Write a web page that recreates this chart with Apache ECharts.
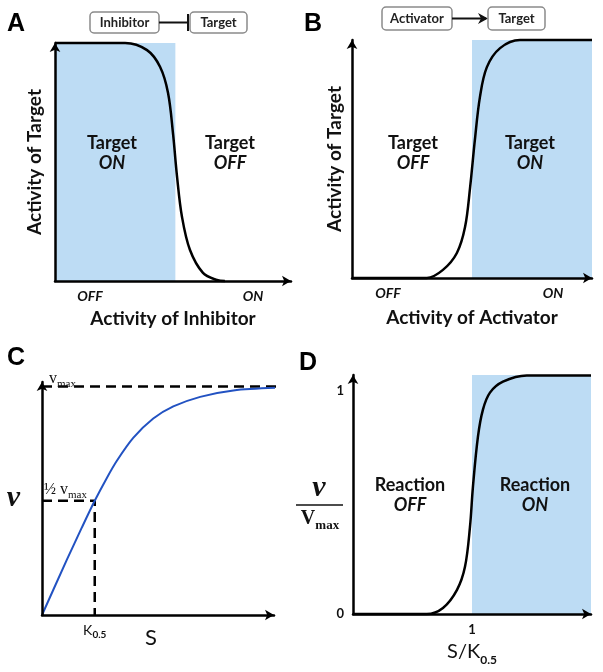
<!DOCTYPE html>
<html><head><meta charset="utf-8">
<script src="https://cdn.jsdelivr.net/npm/echarts@6/dist/echarts.min.js"></script>
<style>html,body{margin:0;padding:0;background:#fff}#c{width:603px;height:672px}</style>
</head><body><div id="c"></div>
<script>
// ---- Data ----
// Panel A: Activity of Target vs Activity of Inhibitor
const inhibitorX = [0, 2.97, 3.9, 4.45, 4.79, 5.0, 5.17, 5.38, 5.72, 6.27, 6.86, 7.2];
const inhibitorY = [1, 1, 0.97, 0.9, 0.79, 0.62, 0.44, 0.27, 0.13, 0.034, 0.004, 0];
// Panel B: Activity of Target vs Activity of Activator
const activatorX = [0, 3.12, 3.79, 4.37, 4.71, 4.92, 5.12, 5.33, 5.62, 6.17, 7.0, 10];
const activatorY = [0, 0, 0.034, 0.105, 0.214, 0.38, 0.58, 0.76, 0.886, 0.966, 1, 1];
// Panel C: v vs S (Vmax = 1, K0.5 = 1)
const mmS = [0, 0.47, 0.75, 1, 1.23, 1.42, 1.73, 2.11, 2.49, 3.0, 3.63, 4.5];
const mmV = [0, 0.241, 0.38, 0.5, 0.6, 0.675, 0.775, 0.86, 0.913, 0.955, 0.983, 0.995];
// Panel D: v/Vmax vs S/K0.5
const hillS = [0, 0.62, 0.756, 0.874, 0.941, 0.983, 1.008, 1.05, 1.092, 1.151, 1.26, 1.46, 2];
const hillV = [0, 0, 0.027, 0.108, 0.211, 0.39, 0.57, 0.794, 0.915, 0.991, 1.04, 1.068, 1.068];
// Tick values / labels
const onOffTicksA = [1.48, 8.39];
const onOffTicksB = [1.5, 8.38];
const onOffLabels = ['OFF', 'ON'];
const shadeA = [0, 5.1];
const shadeB = [5, 10];
const shadeD = [1, 2];
const kTicks = [1];
const dXTicks = [1];
const dYTicks = [0, 1];
const vmaxLevel = 1, halfLevel = 0.5, kValue = 1;

const zip = (a, b) => a.map((v, i) => [v, b[i]]);
const SANS = 'Lato';
const SERIF = 'Liberation Serif';
const BLUE = '#bddcf4';

function axis(gi, max, extra) {
  return Object.assign({
    type: 'value', gridIndex: gi, min: 0, max: max, z: 5, nameMoveOverlap: false,
    splitLine: { show: false }, axisTick: { show: false },
    axisLabel: { show: false },
    axisLine: { show: true, onZero: false, symbol: ['none', 'arrow'], symbolSize: [8, 9],
      lineStyle: { color: '#000', width: 2.5 } }
  }, extra || {});
}
const bigName = { fontFamily: SANS, fontWeight: 'bold', fontSize: 19, color: '#111' };
const offOnLabel = (ticks) => ({ show: true, customValues: ticks, margin: 8,
  formatter: (v) => onOffLabels[ticks.indexOf(v)],
  fontFamily: SANS, fontWeight: 'bold', fontStyle: 'italic', fontSize: 14, color: '#111' });

const option = {
  animation: false,
  grid: [
    { left: 55, top: 43, width: 236, height: 238 },
    { left: 352, top: 40, width: 240, height: 238 },
    { left: 42, top: 382, width: 232, height: 233 },
    { left: 353, top: 375, width: 238, height: 239 }
  ],
  xAxis: [
    axis(0, 10, { name: 'Activity of Inhibitor', nameLocation: 'middle', nameGap: 28, nameTextStyle: bigName, axisLabel: offOnLabel(onOffTicksA) }),
    axis(1, 10, { name: 'Activity of Activator', nameLocation: 'middle', nameGap: 30, nameTextStyle: bigName, axisLabel: offOnLabel(onOffTicksB) }),
    axis(2, 4.4, { name: 'S', nameLocation: 'middle', nameGap: 12,
      nameTextStyle: { fontFamily: SANS, fontSize: 22, color: '#111', padding: [0, 14, 0, 0] },
      axisLabel: { show: true, customValues: kTicks, margin: 5, formatter: () => '{k|K}{s|0.5}',
        rich: { k: { fontFamily: SANS, fontSize: 14, color: '#111', lineHeight: 16 },
                s: { fontFamily: SANS, fontSize: 10, fontWeight: 'bold', color: '#111', verticalAlign: 'bottom', lineHeight: 20 } } } }),
    axis(3, 2, { name: '{a|S/K}{s|0.5}', nameLocation: 'middle', nameGap: 24,
      nameTextStyle: { rich: { a: { fontFamily: SANS, fontSize: 20, color: '#111', lineHeight: 22 },
        s: { fontFamily: SANS, fontSize: 12, fontWeight: 'bold', color: '#111', verticalAlign: 'bottom', lineHeight: 28 } } },
      axisLabel: { show: true, customValues: dXTicks, margin: 9, formatter: '{value}',
        fontFamily: SANS, fontWeight: 'bold', fontSize: 13, color: '#111' } })
  ],
  yAxis: [
    axis(0, 1, { name: 'Activity of Target', nameLocation: 'middle', nameGap: 11, nameTextStyle: bigName }),
    axis(1, 1, { name: 'Activity of Target', nameLocation: 'middle', nameGap: 8, nameTextStyle: bigName }),
    axis(2, 1.02, { name: 'v', nameLocation: 'middle', nameRotate: 0, nameGap: 22,
      nameTextStyle: { fontFamily: SERIF, fontStyle: 'italic', fontWeight: 'bold', fontSize: 30, color: '#111' } }),
    axis(3, 1.07, { axisLabel: { show: true, customValues: dYTicks, margin: 9, formatter: '{value}',
        padding: [10, 0, 0, 0],
        fontFamily: SANS, fontWeight: 'bold', fontSize: 13, color: '#111' } })
  ],
  series: [
    { type: 'line', xAxisIndex: 0, yAxisIndex: 0, data: zip(inhibitorX, inhibitorY), smooth: 0.35,
      showSymbol: false, clip: false, lineStyle: { color: '#000', width: 2.5 },
      markArea: { silent: true, itemStyle: { color: BLUE }, data: [[{ xAxis: shadeA[0] }, { xAxis: shadeA[1] }]] } },
    { type: 'line', xAxisIndex: 1, yAxisIndex: 1, data: zip(activatorX, activatorY), smooth: 0.35,
      showSymbol: false, clip: false, lineStyle: { color: '#000', width: 2.5 },
      markArea: { silent: true, itemStyle: { color: BLUE }, data: [[{ xAxis: shadeB[0] }, { xAxis: shadeB[1] }]] } },
    { type: 'line', xAxisIndex: 2, yAxisIndex: 2, data: [[0, vmaxLevel], [mmS[mmS.length - 1], vmaxLevel]],
      showSymbol: false, clip: false, lineStyle: { color: '#000', width: 2.5, type: [10, 6] } },
    { type: 'line', xAxisIndex: 2, yAxisIndex: 2, data: [[0, halfLevel], [kValue, halfLevel], [kValue, 0]],
      showSymbol: false, clip: false, lineStyle: { color: '#000', width: 2.5, type: [10, 6] } },
    { type: 'line', xAxisIndex: 2, yAxisIndex: 2, data: zip(mmS, mmV), smooth: 0.3,
      showSymbol: false, clip: false, z: 3, lineStyle: { color: '#2252c2', width: 2 } },
    { type: 'line', xAxisIndex: 3, yAxisIndex: 3, data: zip(hillS, hillV), smooth: 0.35,
      showSymbol: false, clip: false, lineStyle: { color: '#000', width: 2.5 },
      markArea: { silent: true, itemStyle: { color: BLUE }, data: [[{ xAxis: shadeD[0] }, { xAxis: shadeD[1] }]] } }
  ],
  graphic: []
};

const g = option.graphic;
const letter = (t, x, y) => g.push({ type: 'text', x, y, z: 10,
  style: { text: t, font: 'bold 25px "Liberation Sans"', fill: '#000', align: 'left', verticalAlign: 'middle' } });
letter('A', 7, 24); letter('B', 304, 24); letter('C', 7, 358); letter('D', 299, 363);

const regionText = (top, bottom, x, y) => g.push({ type: 'text', x, y, z: 10,
  style: { text: '{b|' + top + '}\n{i|' + bottom + '}', align: 'center', verticalAlign: 'middle',
    rich: { b: { fontFamily: SANS, fontWeight: 'bold', fontSize: 18, lineHeight: 20, fill: '#111' },
            i: { fontFamily: SANS, fontWeight: 'bold', fontStyle: 'italic', fontSize: 18, lineHeight: 20, fill: '#111' } } } });
regionText('Target', 'ON', 112, 153);
regionText('Target', 'OFF', 230, 153);
regionText('Target', 'OFF', 413, 153);
regionText('Target', 'ON', 530, 153);
regionText('Reaction', 'OFF', 410, 495);
regionText('Reaction', 'ON', 535, 495);

const box = (label, x, y, w, h) => {
  g.push({ type: 'rect', shape: { x, y, width: w, height: h, r: 4 }, z: 10,
    style: { fill: '#fff', stroke: '#8a8a8a', lineWidth: 1.5 } });
  g.push({ type: 'text', x: x + w / 2, y: y + h / 2, z: 11,
    style: { text: label, font: 'bold 13px Lato', fill: '#222', align: 'center', verticalAlign: 'middle' } });
};
box('Inhibitor', 90, 12, 69, 21);
g.push({ type: 'line', shape: { x1: 159, y1: 22.5, x2: 188, y2: 22.5 }, z: 10, style: { stroke: '#111', lineWidth: 2 } });
g.push({ type: 'line', shape: { x1: 188, y1: 14, x2: 188, y2: 31 }, z: 10, style: { stroke: '#111', lineWidth: 2 } });
box('Target', 190, 12, 57, 21);
box('Activator', 382, 7, 70, 23);
g.push({ type: 'line', shape: { x1: 452, y1: 18.5, x2: 486, y2: 18.5 }, z: 10, style: { stroke: '#111', lineWidth: 2 } });
g.push({ type: 'polygon', shape: { points: [[478, 13], [488, 18.5], [478, 24], [481, 18.5]] }, z: 10, style: { fill: '#111' } });
box('Target', 488, 7, 57, 23);

// Panel C annotations
const sub = (main, s, x, y) => g.push({ type: 'text', x, y, z: 10,
  style: { text: '{v|' + main + '}{s|' + s + '}', align: 'left', verticalAlign: 'middle',
    rich: { v: { fontFamily: SERIF, fontSize: 16, lineHeight: 18, fill: '#111' },
            s: { fontFamily: SERIF, fontSize: 11, lineHeight: 22, verticalAlign: 'bottom', fill: '#111' } } } });
sub('v', 'max', 49, 379);
sub('½ v', 'max', 44, 490);

// Panel D y label (v / Vmax)
g.push({ type: 'text', x: 319, y: 488, z: 10,
  style: { text: 'v', font: 'italic bold 30px "Liberation Serif"', fill: '#111', align: 'center', verticalAlign: 'middle' } });
g.push({ type: 'line', shape: { x1: 296, y1: 505, x2: 343, y2: 505 }, z: 10, style: { stroke: '#111', lineWidth: 1.5 } });
g.push({ type: 'text', x: 320, y: 519, z: 10,
  style: { text: '{V|V}{m|max}', align: 'center', verticalAlign: 'middle',
    rich: { V: { fontFamily: SERIF, fontWeight: 'bold', fontSize: 20, lineHeight: 22, fill: '#111' },
            m: { fontFamily: SERIF, fontWeight: 'bold', fontSize: 13, lineHeight: 26, verticalAlign: 'bottom', fill: '#111' } } } });

const chart = echarts.init(document.getElementById('c'), null, { renderer: 'canvas' });
chart.setOption(option);
</script></body></html>
